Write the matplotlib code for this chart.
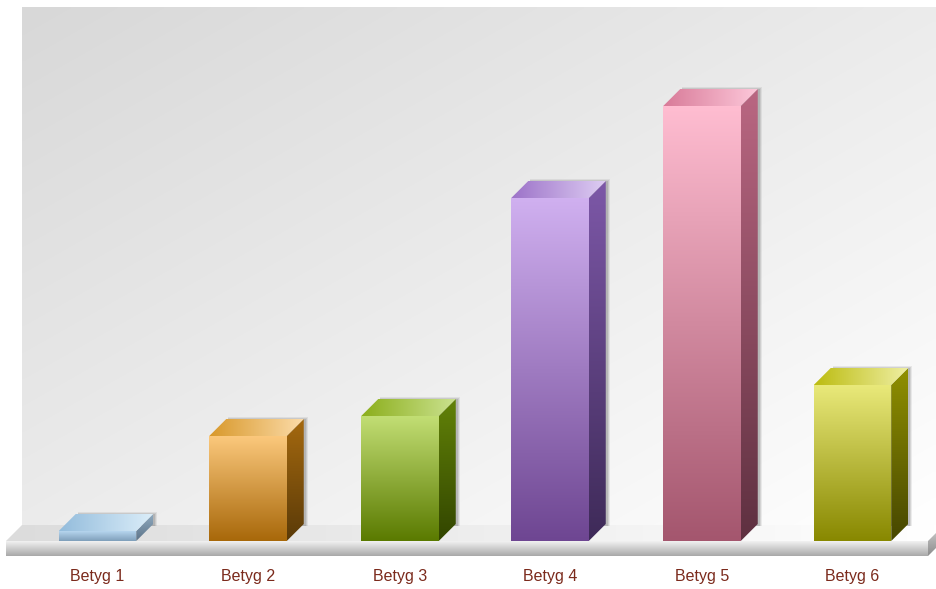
import matplotlib
matplotlib.use("Agg")
import matplotlib.pyplot as plt
from matplotlib.colors import to_rgb
from matplotlib.patches import Polygon, Rectangle
import numpy as np

labels = ['Betyg 1', 'Betyg 2', 'Betyg 3', 'Betyg 4', 'Betyg 5', 'Betyg 6']
values = [1.0, 10.5, 12.5, 34.3, 43.5, 15.6]
centers = [97.5, 248, 400, 550, 702, 852.5]

# front top, front bottom, side top, side bottom, lid left, lid right
bar_colors = [
    ('#b6d5ee', '#7f9fba', '#8fa9bf', '#5d7488', '#93bcdc', '#dceef9'),
    ('#fbc87c', '#a8680a', '#a5690f', '#5a3a08', '#d8982a', '#fcdcaa'),
    ('#c2de74', '#5a7a00', '#628208', '#324500', '#8bae1a', '#cbe290'),
    ('#d0b0f0', '#6e4692', '#7d58a8', '#3e2a58', '#9c72c8', '#decdf3'),
    ('#ffbdd1', '#a4566e', '#ba6782', '#5e3040', '#d87a98', '#fdc8da'),
    ('#e9e97a', '#888800', '#909000', '#464600', '#bcbc10', '#efefa4'),
]

PX = 10.0       # pixels per value unit
BASE = 541      # pixel row of value 0


def vy(p):
    # pixel row to value axis
    return (BASE - p) / PX


def gradient(ax, verts, c0, c1, mode='v', z=3):
    verts = np.array(verts, dtype=float)
    x0, x1 = verts[:, 0].min(), verts[:, 0].max()
    y0, y1 = verts[:, 1].min(), verts[:, 1].max()
    n = 200
    u, v = np.meshgrid(np.linspace(0, 1, n), np.linspace(0, 1, n))
    if mode == 'v':
        t = v
    elif mode == 'h':
        t = u
    else:
        t = (u + v) / 2
    t = t[..., None]
    img = (1 - t) * np.array(to_rgb(c0)) + t * np.array(to_rgb(c1))
    im = ax.imshow(img, extent=(x0, x1, y0, y1), aspect='auto', origin='upper',
                   interpolation='bilinear', zorder=z)
    poly = Polygon(verts, closed=True, transform=ax.transData, fc='none', ec='none')
    ax.add_patch(poly)
    im.set_clip_path(poly)


fig = plt.figure(figsize=(9.36, 5.89), dpi=100)
ax = fig.add_axes([0, 0, 1, 1])

# back wall, floor, front ledge and its end
gradient(ax, [(22, vy(7)), (936, vy(7)), (936, vy(526)), (22, vy(526))], '#d8d8d8', '#ffffff', 'd')
gradient(ax, [(22, vy(525)), (936, vy(525)), (936, vy(533)), (928, vy(541)), (6, vy(541))],
         '#dcdcdc', '#ffffff', 'h')
gradient(ax, [(6, vy(541)), (928, vy(541)), (928, vy(556)), (6, vy(556))], '#f2f2f2', '#a8a8a8')
gradient(ax, [(928, vy(541)), (936, vy(533)), (936, vy(548)), (928, vy(556))], '#c0c0c0', '#8c8c8c')

width = 77.5
depth = 17
dv = depth / PX
for cx, label, val, cols in zip(centers, labels, values, bar_colors):
    l, r = cx - width / 2, cx + width / 2
    top = val

    # soft shadow behind the bar, drawn above the wall
    for grow, a in [(4.0, 0.12), (3.0, 0.18), (2.0, 0.24)]:
        ax.add_patch(Rectangle((l + depth + 2, vy(526)), r - l + grow - 2,
                               top + dv + (grow - 1.5) / PX - vy(526),
                               fc='#707070', ec='none', alpha=a, zorder=3.5))

    gradient(ax, [(l, top), (r, top), (r, 0), (l, 0)], cols[0], cols[1], z=4)
    gradient(ax, [(r, top), (r + depth, top + dv), (r + depth, dv), (r, 0)], cols[2], cols[3], z=4)
    gradient(ax, [(l, top), (l + depth, top + dv), (r + depth, top + dv), (r, top)],
             cols[4], cols[5], 'h', z=4)

    ax.text(cx, vy(575.5), label, ha='center', va='center_baseline', fontsize=11.5,
            family='Liberation Sans', color='#7b2a1c', zorder=5)

ax.set_xlim(0, 936)
ax.set_ylim(vy(589), vy(0))
ax.axis('off')
fig.savefig('out.png', dpi=100, facecolor='white')
